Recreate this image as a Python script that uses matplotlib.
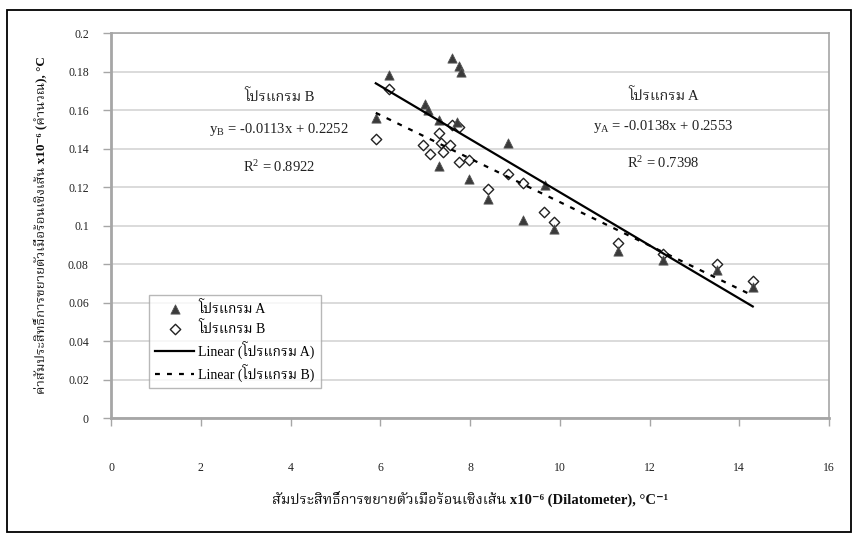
import numpy as np
import matplotlib
matplotlib.use("Agg")
import matplotlib.pyplot as plt
from matplotlib import font_manager
from matplotlib.ft2font import FT2Font
from matplotlib.patches import Rectangle

# --- data ---
x_a = [5.9, 6.2, 7.0, 7.07, 7.3, 7.3, 7.6, 7.7, 7.75, 7.8, 7.97, 8.4, 8.85,
       9.18, 9.67, 9.87, 11.3, 12.3, 13.5, 14.3]
y_a = [0.156, 0.178, 0.163, 0.160, 0.155, 0.131, 0.187, 0.154, 0.183, 0.180,
       0.124, 0.114, 0.143, 0.103, 0.121, 0.098, 0.087, 0.082, 0.077, 0.068]

x_b = [5.9, 6.2, 6.95, 7.1, 7.3, 7.35, 7.4, 7.55, 7.6, 7.75, 7.75, 7.97, 8.4,
       8.85, 9.18, 9.65, 9.87, 11.3, 12.3, 13.5, 14.3]
y_b = [0.145, 0.171, 0.142, 0.137, 0.148, 0.143, 0.138, 0.142, 0.152, 0.151,
       0.133, 0.134, 0.119, 0.127, 0.122, 0.107, 0.102, 0.091, 0.085, 0.080,
       0.071]

# trend lines: slope, intercept, R^2
fit_a = [-0.0138, 0.2553, 0.7398]
fit_b = [-0.0113, 0.2252, 0.8922]
fit_range = [5.9, 14.3]

label_a = "โปรแกรม A"
label_b = "โปรแกรม B"
x_label = "สัมประสิทธิ์การขยายตัวเมื่อร้อนเชิงเส้น x10⁻⁶ (Dilatometer), °C⁻¹"
y_label = "ค่าสัมประสิทธิ์การขยายตัวเมื่อร้อนเชิงเส้น x10⁻⁶ (คำนวณ), °C"


# --- หา font ที่มีตัวอักษรไทย ---
def find_thai_font():
    found = []
    for f in font_manager.fontManager.ttflist:
        try:
            if 0x0E01 in FT2Font(f.fname).get_charmap():
                found.append(f.name)
        except Exception:
            pass
    pref = ["Noto Serif Thai", "Noto Sans Thai", "Tlwg Typo", "Norasi",
            "Kinnari", "Loma", "Garuda", "Waree"]
    for p in pref:
        if p in found:
            return p
    return found[0] if found else "DejaVu Sans"


thai = find_thai_font()
fam = ["Liberation Serif", thai, "DejaVu Sans"]
plt.rcParams["font.family"] = fam
plt.rcParams["mathtext.fontset"] = "custom"
plt.rcParams["mathtext.rm"] = "Liberation Serif"
plt.rcParams["mathtext.it"] = "Liberation Serif:italic"

fig = plt.figure(figsize=(8.56, 5.36), dpi=100)
ax = fig.add_axes([0.1297, 0.2201, 0.8388, 0.7183])

# กรอบรอบรูป
fig.patches.append(Rectangle((0.008, 0.008), 0.986, 0.973, transform=fig.transFigure,
                             fill=False, edgecolor="black", linewidth=1.3))

grid_c = "#d4d4d4"
axis_c = "#a6a6a6"

ax.scatter(x_a, y_a, marker="^", s=44, c="#3a3a3a", edgecolors="#555555",
           linewidths=0.6, zorder=4, label=label_a)
ax.scatter(x_b, y_b, marker="D", s=28, c="white", edgecolors="#222222",
           linewidths=1.0, zorder=3, label=label_b)

xx = np.array(fit_range)
ax.plot(xx, fit_a[0] * xx + fit_a[1], color="black", lw=1.6, zorder=5,
        label="Linear (" + label_a + ")")
ax.plot(xx, fit_b[0] * xx + fit_b[1], color="black", lw=1.6, zorder=5,
        dashes=(2.2, 3.2), label="Linear (" + label_b + ")")

ax.set_xlim(0, 16)
ax.set_ylim(0, 0.2)
ax.set_xticks(np.arange(0, 17, 2))
ax.set_yticks(np.arange(0, 0.201, 0.02))
ax.set_xticklabels([f"{v:g}" for v in np.arange(0, 17, 2)])
ax.set_yticklabels(["0", "0.02", "0.04", "0.06", "0.08", "0.1", "0.12", "0.14",
                    "0.16", "0.18", "0.2"])
ax.grid(axis="y", color=grid_c, lw=1.2)
ax.set_axisbelow(True)
for s in ax.spines.values():
    s.set_color(axis_c)
    s.set_linewidth(1.2)
ax.spines["left"].set_linewidth(2.0)
ax.spines["bottom"].set_linewidth(2.0)
ax.tick_params(axis="both", direction="out", length=6, width=1.0, color=axis_c,
               labelsize=8.5, labelcolor="#222222")
ax.tick_params(axis="x", pad=26)
ax.tick_params(axis="y", pad=10)

ax.set_xlabel(x_label, fontsize=10.5, fontweight="bold", labelpad=12, color="#111111")
ax.set_ylabel(y_label, fontsize=9.5, fontweight="bold", labelpad=14, color="#111111")

# สมการ
tk = dict(ha="center", va="center", fontsize=10.5, transform=ax.transAxes, color="#222222")
ax.text(0.234, 0.834, label_b, **tk)
ax.text(0.234, 0.749, f"y$_\\mathrm{{B}}$ = {fit_b[0]}x + {fit_b[1]}", **tk)
ax.text(0.234, 0.652, f"R$^2$ = {fit_b[2]}", **tk)
ax.text(0.769, 0.839, label_a, **tk)
ax.text(0.769, 0.756, f"y$_\\mathrm{{A}}$ = {fit_a[0]}x + {fit_a[1]}", **tk)
ax.text(0.769, 0.662, f"R$^2$ = {fit_a[2]}", **tk)

leg = ax.legend(loc="lower left", bbox_to_anchor=(0.053, 0.078), fontsize=10,
                frameon=True, fancybox=False, handlelength=2.8, handletextpad=0.3,
                labelspacing=0.35, borderpad=0.45, borderaxespad=0)
leg.get_frame().set_edgecolor(axis_c)
leg.get_frame().set_linewidth(1.0)

fig.savefig("out.png", dpi=100)
